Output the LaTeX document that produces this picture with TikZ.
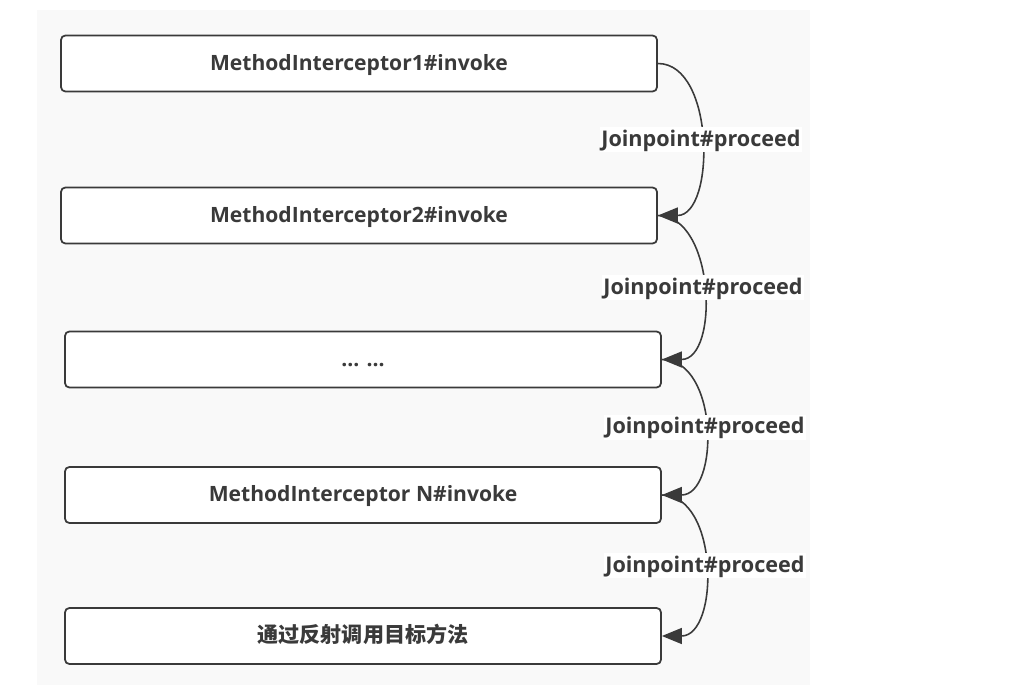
\documentclass[tikz,border=0pt]{standalone}
\usepackage{fontspec}
\setmainfont{Open Sans}
\newfontfamily\cjk{Noto Sans CJK SC}
\usetikzlibrary{arrows.meta}
\definecolor{ink}{HTML}{3A3A3A}
\definecolor{paper}{HTML}{F9F9F9}
\begin{document}
\begin{tikzpicture}[
	box/.style={draw=ink, line width=1pt, fill=white, rounded corners=2.5pt, minimum width=11.92cm, minimum height=1.12cm, text=ink, text height=1em, text depth=0.25em, font=\fontsize{12}{14}\selectfont\bfseries},
	flow/.style={draw=ink, line width=0.9pt, -{Triangle[length=0.4cm, width=0.32cm]}},
	lbl/.style={fill=white, inner sep=1pt, text=ink, text height=1em, text depth=0.25em, font=\fontsize{12.3}{14}\selectfont\bfseries}]
		
		\useasboundingbox (0,0) rectangle (20.7,-13.78);
		\fill[paper] (0.74,-0.2) rectangle (16.2,-13.7);
		
		\node[box] (m1) at (7.18,-1.27) {MethodInterceptor1\#invoke};
		\node[box] (m2) at (7.18,-4.31) {MethodInterceptor2\#invoke};
		\node[box] (dots) at (7.26,-7.19) {... ...};
		\node[box] (mn) at (7.26,-9.9) {MethodInterceptor N\#invoke};
		\node[box] (target) at (7.26,-12.72) {\cjk 通过反射调用目标方法};
		
		\draw[flow] (m1.east) .. controls +(1.15,0) and +(1.15,0) .. node[lbl] {Joinpoint\#proceed} (m2.east);
		\draw[flow] (m2.east) .. controls +(1.15,0) and +(1.15,0) .. node[lbl] {Joinpoint\#proceed} (dots.east);
		\draw[flow] (dots.east) .. controls +(1.15,0) and +(1.15,0) .. node[lbl] {Joinpoint\#proceed} (mn.east);
		\draw[flow] (mn.east) .. controls +(1.15,0) and +(1.15,0) .. node[lbl] {Joinpoint\#proceed} (target.east);
		
	\end{tikzpicture}
\end{document}
